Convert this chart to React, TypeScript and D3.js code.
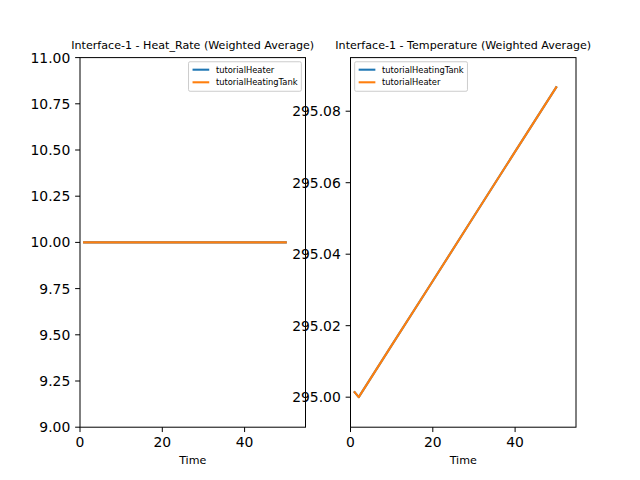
import React from "react";
import * as d3 from "d3";

// ---- data ----
const heatTime = [1, 10, 20, 30, 40, 50];
const heatRateHeater = [10, 10, 10, 10, 10, 10];
const heatRateTank = [10, 10, 10, 10, 10, 10];

const tempTime = [1, 2, 10, 20, 30, 40, 50];
const tempTank = [295.0014, 295.0, 295.0145, 295.0325, 295.0506, 295.0687, 295.0867];
const tempHeater = [295.0014, 295.0, 295.0145, 295.0325, 295.0506, 295.0687, 295.0867];

const xTicks = [0, 20, 40];
const heatYTicks = [9, 9.25, 9.5, 9.75, 10, 10.25, 10.5, 10.75, 11];
const tempYTicks = [295.0, 295.02, 295.04, 295.06, 295.08];

const BLUE = "#1f77b4";
const ORANGE = "#ff7f0e";
const FONT = "DejaVu Sans, sans-serif";

type Series = { name: string; color: string; x: number[]; y: number[] };

function Panel(props: {
  x0: number;
  x1: number;
  title: string;
  xDomain: [number, number];
  yDomain: [number, number];
  yTicks: number[];
  series: Series[];
  legendRight: boolean;
}) {
  const top = 57.6;
  const bottom = 427.2;
  const { x0, x1 } = props;
  const xs = d3.scaleLinear().domain(props.xDomain).range([x0, x1]);
  const ys = d3.scaleLinear().domain(props.yDomain).range([bottom, top]);
  const fmt = d3.format(".2f");
  const line = d3.line<[number, number]>().x((d) => xs(d[0])).y((d) => ys(d[1]));

  const lf = 8.33;
  const legW = 112.8;
  const legH = 29.5;
  const legX = props.legendRight ? x1 - lf * 0.5 - legW : x0 + lf * 0.5;
  const legY = top + lf * 0.5;

  return (
    <g>
      <rect x={x0} y={top} width={x1 - x0} height={bottom - top} fill="white" />
      {props.series.map((s) => (
        <path
          key={s.name}
          d={line(s.x.map((v, i) => [v, s.y[i]] as [number, number])) || ""}
          fill="none"
          stroke={s.color}
          strokeWidth={2.08}
          strokeLinejoin="round"
          strokeLinecap="square"
        />
      ))}
      <rect x={x0} y={top} width={x1 - x0} height={bottom - top} fill="none" stroke="black" strokeWidth={1} />
      {xTicks.map((t) => (
        <g key={"x" + t}>
          <line x1={xs(t)} x2={xs(t)} y1={bottom} y2={bottom + 4.86} stroke="black" strokeWidth={1} />
          <text x={xs(t)} y={bottom + 9.7} dy="0.76em" textAnchor="middle" fontSize={13.9} fontFamily={FONT}>
            {t}
          </text>
        </g>
      ))}
      {props.yTicks.map((t) => (
        <g key={"y" + t}>
          <line x1={x0} x2={x0 - 4.86} y1={ys(t)} y2={ys(t)} stroke="black" strokeWidth={1} />
          <text x={x0 - 9.7} y={ys(t)} dy="0.36em" textAnchor="end" fontSize={13.9} fontFamily={FONT}>
            {fmt(t)}
          </text>
        </g>
      ))}
      <text x={(x0 + x1) / 2} y={bottom + 37} textAnchor="middle" fontSize={11.1} fontFamily={FONT}>
        Time
      </text>
      <text x={(x0 + x1) / 2} y={top - 8.3} textAnchor="middle" fontSize={11.1} fontFamily={FONT}>
        {props.title}
      </text>
      <g>
        <rect
          x={legX}
          y={legY}
          width={legW}
          height={legH}
          rx={1.5}
          fill="white"
          fillOpacity={0.8}
          stroke="#cccccc"
          strokeWidth={1}
        />
        {props.series.map((s, i) => {
          const cy = legY + 3.33 + 4.6 + i * 12.6;
          return (
            <g key={"l" + s.name}>
              <line x1={legX + 4} x2={legX + 4 + 16.7} y1={cy} y2={cy} stroke={s.color} strokeWidth={2.08} />
              <text x={legX + 4 + 16.7 + 6.67} y={cy} dy="0.36em" fontSize={lf} fontFamily={FONT}>
                {s.name}
              </text>
            </g>
          );
        })}
      </g>
    </g>
  );
}

export default function App() {
  return (
    <svg width={640} height={480} style={{ position: "absolute", left: 0, top: 0 }}>
      <rect width={640} height={480} fill="white" />
      <Panel
        x0={80}
        x1={305.5}
        title="Interface-1 - Heat_Rate (Weighted Average)"
        xDomain={[0, 54.8]}
        yDomain={[9, 11]}
        yTicks={heatYTicks}
        legendRight={true}
        series={[
          { name: "tutorialHeater", color: BLUE, x: heatTime, y: heatRateHeater },
          { name: "tutorialHeatingTank", color: ORANGE, x: heatTime, y: heatRateTank },
        ]}
      />
      <Panel
        x0={350.5}
        x1={576}
        title="Interface-1 - Temperature (Weighted Average)"
        xDomain={[0, 54.8]}
        yDomain={[294.9916, 295.095]}
        yTicks={tempYTicks}
        legendRight={false}
        series={[
          { name: "tutorialHeatingTank", color: BLUE, x: tempTime, y: tempTank },
          { name: "tutorialHeater", color: ORANGE, x: tempTime, y: tempHeater },
        ]}
      />
    </svg>
  );
}
